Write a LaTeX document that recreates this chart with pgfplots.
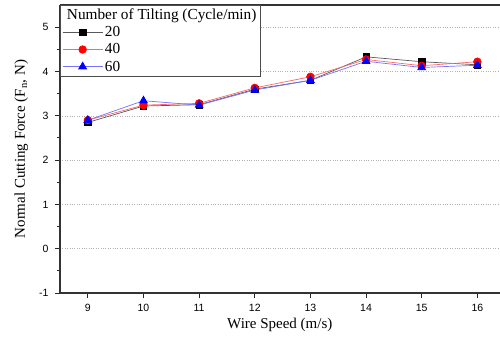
\documentclass[border=0pt]{standalone}
\usepackage{fontspec}
\setmainfont{Liberation Serif}
\newfontfamily\arial{Liberation Sans}
\usepackage{pgfplots}
\pgfplotsset{compat=1.18}
\begin{document}
\begin{tikzpicture}
\begin{axis}[
  scale only axis,
  width=439.6bp, height=288bp,
  xmin=8.5, xmax=16.4,
  ymin=-1, ymax=5.5,
  xtick={9,10,11,12,13,14,15,16},
  ytick={-1,0,1,2,3,4,5},
  minor ytick={-0.5,0.5,1.5,2.5,3.5,4.5},
  axis x line*=box,
  axis y line*=left,
  xtick pos=bottom,
  ytick pos=left,
  tick align=outside,
  major tick length=5bp,
  minor tick length=3bp,
  every tick/.style={black!85, line width=0.9bp},
  axis line style={black!80, line width=1.3bp},
  ymajorgrids,
  grid style={dotted, gray!60, line width=0.5bp},
  /pgf/number format/assume math mode=true,
  ticklabel style={font=\arial\fontsize{10.5bp}{12bp}\selectfont},
  xticklabel style={yshift=-3bp},
  yticklabel style={xshift=-3bp},
  xlabel={Wire Speed (m/s)},
  ylabel={Normal Cutting Force (F\textsubscript{n}, N)},
  every axis x label/.style={at={(axis description cs:0.5,-0.111)}, anchor=center, font=\fontsize{15bp}{18bp}\selectfont},
  every axis y label/.style={at={(axis description cs:-0.088,0.5)}, rotate=90, anchor=center, font=\fontsize{15bp}{18bp}\selectfont},
  legend cell align=left,
  legend style={at={(rel axis cs:0,1)}, anchor=north west, draw=black!70, line width=0.6bp,
    font=\fontsize{15.3bp}{16bp}\selectfont, inner xsep=2bp, inner ysep=1.5bp,
    row sep=1.5bp},
  legend image code/.code={\draw[mark repeat=2,mark phase=2,#1] plot coordinates {(0bp,0bp) (20bp,0bp) (40bp,0bp)};},
]
\addlegendimage{empty legend}
\addlegendentry{\hspace{-38bp}Number of Tilting (Cycle/min)}
\addplot[color=black!65, line width=0.7bp, mark=square*, mark size=3.2bp, mark options={fill=black, draw=black, solid}]
coordinates {(9,2.85) (10,3.22) (11,3.25) (12,3.60) (13,3.80) (14,4.33) (15,4.22) (16,4.15)};
\addlegendentry{20}
\addplot[color=red!60, line width=0.7bp, mark=*, mark size=3.8bp, mark options={fill=red, draw=red, solid}]
coordinates {(9,2.90) (10,3.24) (11,3.28) (12,3.63) (13,3.88) (14,4.27) (15,4.13) (16,4.22)};
\addlegendentry{40}
\addplot[color=blue!55, line width=0.7bp, mark=triangle*, mark size=4.5bp, mark options={fill=blue, draw=blue, solid}]
coordinates {(9,2.90) (10,3.34) (11,3.24) (12,3.58) (13,3.80) (14,4.23) (15,4.09) (16,4.14)};
\addlegendentry{60}
\coordinate (bl) at (rel axis cs:0,0);
\coordinate (tr) at (rel axis cs:1,1);
\end{axis}
\pgfresetboundingbox
\path[use as bounding box] ([shift={(-60bp,-50bp)}]bl) rectangle ([shift={(0.4bp,5bp)}]tr);
\end{tikzpicture}
\end{document}
